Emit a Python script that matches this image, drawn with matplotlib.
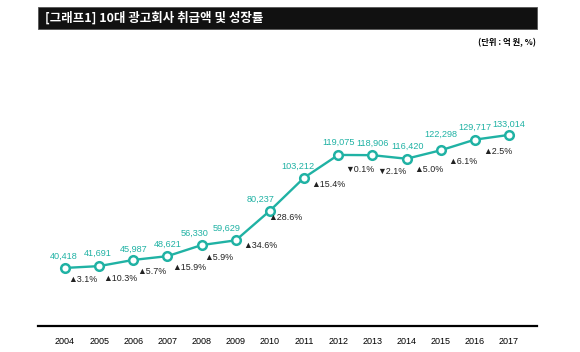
import matplotlib
matplotlib.use("Agg")
import matplotlib.pyplot as plt
from matplotlib.patches import Rectangle

years = [2004, 2005, 2006, 2007, 2008, 2009, 2010, 2011, 2012, 2013, 2014, 2015, 2016, 2017]
amounts = [40418, 41691, 45987, 48621, 56330, 59629, 80237, 103212, 119075, 118906, 116420, 122298, 129717, 133014]
growth_labels = ["▲3.1%", "▲10.3%", "▲5.7%", "▲15.9%", "▲5.9%", "▲34.6%", "▲28.6%",
                 "▲15.4%", "▼0.1%", "▼2.1%", "▲5.0%", "▲6.1%", "▲2.5%"]
title = "[그래프1] 10대 광고회사 취급액 및 성장률"
unit = "(단위 : 억 원, %)"

# label placement styles (pixel offsets)
val_dx = [-1, -1, 0, 0, -7, -9, -9, -6, 0, 0, 1, 0, 0, 0]
val_dy = [12, 13, 11, 12, 12, 12, 11, 11, 13, 12, 12, 16, 12, 11]
gr_dx = [3, 4, 4, 5, 3, 7, -2, 7, 7, 5, 8, 8, 8]
gr_dy = [12, 12, 12, 11, 12, 5, 7, 7, 14, 16, 11, 11, 12]

W, H = 580, 352
teal = "#20b2a4"
num_font = ["Liberation Sans", "DejaVu Sans"]
kr_font = ["Noto Sans CJK KR", "DejaVu Sans"]

fig = plt.figure(figsize=(W / 100, H / 100), dpi=100)
ax_left, ax_right, ax_bottom, ax_top = 38, 537, 326, 67.4
ax = fig.add_axes([ax_left / W, 1 - ax_bottom / H, (ax_right - ax_left) / W, (ax_bottom - ax_top) / H])

ax.plot(years, amounts, color=teal, lw=1.7, marker="o", ms=6.2, mfc="white",
        mec=teal, mew=1.8, zorder=3, clip_on=False)

ax.set_xlim(2003.21, 2017.82)
ax.set_ylim(0, 180000)

for s in ["top", "left", "right"]:
    ax.spines[s].set_visible(False)
ax.spines["bottom"].set_linewidth(1.6)
ax.spines["bottom"].set_color("black")
ax.set_yticks([])
ax.set_xticks(years)
ax.set_xticklabels([str(y) for y in years], fontsize=6.5, family=num_font)
ax.tick_params(axis="x", length=0, pad=8)

for i, (x, v) in enumerate(zip(years, amounts)):
    ax.annotate(f"{v:,}", (x, v), xytext=(val_dx[i], val_dy[i]), textcoords="offset pixels",
                ha="center", va="center", fontsize=6.6, color=teal, family=num_font)

for i, g in enumerate(growth_labels):
    ax.annotate(g, (years[i], amounts[i]), xytext=(gr_dx[i], -gr_dy[i]), textcoords="offset pixels",
                ha="left", va="center", fontsize=6.4, color="#222222", family=num_font)

# title bar
fig.add_artist(Rectangle((38 / W, 1 - 28.5 / H), (537 - 38) / W, 21.5 / H,
                         transform=fig.transFigure, facecolor="#111111", edgecolor="#555555", lw=0.6))
fig.text(45 / W, 1 - 17.8 / H, title, color="white", fontsize=9, fontweight="bold",
         family=kr_font, ha="left", va="center")
fig.text(536 / W, 1 - 43 / H, unit, color="black", fontsize=6, fontweight="bold",
         family=kr_font, ha="right", va="center")

fig.savefig("out.png", dpi=100)
